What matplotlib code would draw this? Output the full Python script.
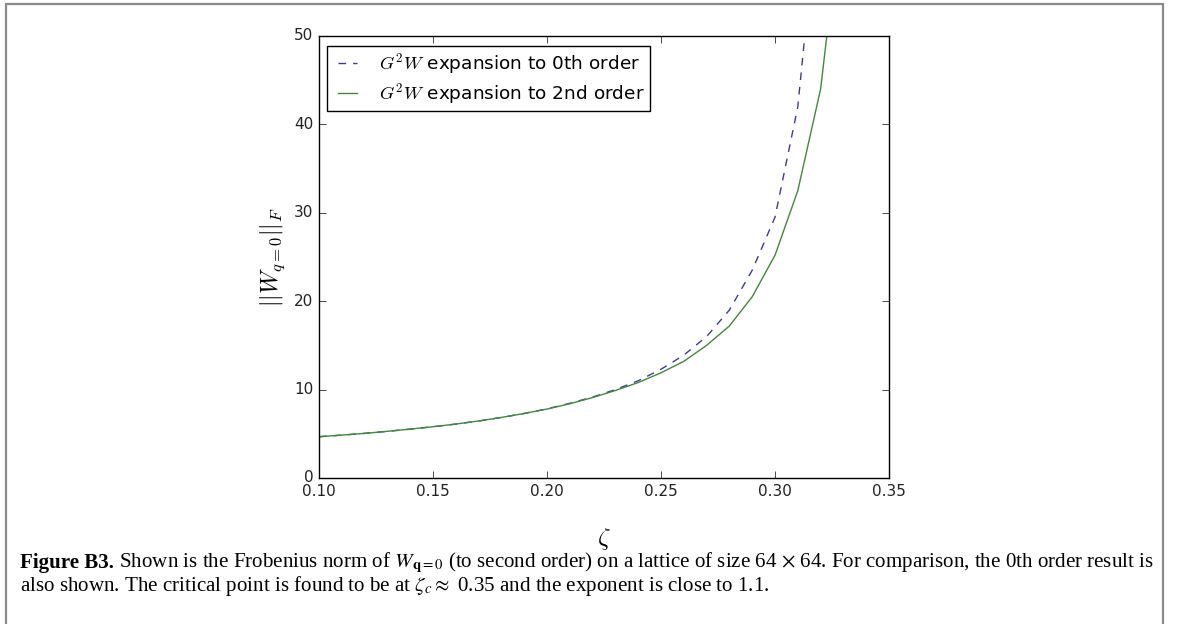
import matplotlib
matplotlib.use("Agg")
import matplotlib.pyplot as plt
from matplotlib.patches import Rectangle
import numpy as np

plt.style.use("classic")

# ---- data ----
zeta_0th = [0.10, 0.11, 0.12, 0.13, 0.14, 0.15, 0.16, 0.17, 0.18, 0.19, 0.20,
            0.21, 0.22, 0.23, 0.24, 0.25, 0.26, 0.27, 0.28, 0.29, 0.30, 0.31, 0.32]
norm_0th = [4.67, 4.85, 5.05, 5.28, 5.53, 5.80, 6.10, 6.45, 6.85, 7.30, 7.82,
            8.45, 9.15, 10.0, 11.0, 12.3, 13.9, 16.0, 19.0, 23.5, 29.5, 42.0, 68.0]
zeta_2nd = [0.10, 0.11, 0.12, 0.13, 0.14, 0.15, 0.16, 0.17, 0.18, 0.19, 0.20,
            0.21, 0.22, 0.23, 0.24, 0.25, 0.26, 0.27, 0.28, 0.29, 0.30, 0.31, 0.32, 0.33]
norm_2nd = [4.67, 4.85, 5.05, 5.28, 5.53, 5.80, 6.10, 6.45, 6.85, 7.30, 7.80,
            8.40, 9.10, 9.90, 10.8, 11.9, 13.2, 15.0, 17.2, 20.5, 25.2, 32.5, 44.0, 66.0]
label_0th = r"$G^2W$ expansion to 0th order"
label_2nd = r"$G^2W$ expansion to 2nd order"
xticks = [0.10, 0.15, 0.20, 0.25, 0.30, 0.35]
yticks = [0, 10, 20, 30, 40, 50]

W, H = 1179, 624
fig = plt.figure(figsize=(W / 100, H / 100), dpi=100, facecolor="white")
ax = fig.add_axes([319 / W, 1 - 478 / H, (889 - 319) / W, (478 - 36) / H])
ax.set_facecolor("white")

ax.plot(zeta_0th, norm_0th, linestyle=(0, (5.5, 5)), color="#3b3b99", lw=1.0, label=label_0th)
ax.plot(zeta_2nd, norm_2nd, linestyle="-", color="#3f8a36", lw=1.0, label=label_2nd)

ax.set_xlim(0.10, 0.35)
ax.set_ylim(0, 50)
ax.set_xticks(xticks)
ax.set_xticklabels([f"{v:.2f}" for v in xticks])
ax.set_yticks(yticks)
ax.set_yticklabels([str(v) for v in yticks])
ax.tick_params(labelsize=11, labelcolor="#222222", direction="in", length=5,
               top=True, right=True)

ax.set_ylabel(r"$||W_{q=0}||_F$", fontsize=17)
ax.yaxis.set_label_coords((287 - 319) / 570, 0.5)
ax.set_xlabel(r"$\zeta$", fontsize=18)
ax.xaxis.set_label_coords(0.5, -(526 - 478) / 442)

leg = ax.legend(loc="upper left", bbox_to_anchor=(0.014, 0.977), borderaxespad=0,
                fontsize=13.3, handlelength=1.6, handletextpad=0.9, labelspacing=0.25,
                borderpad=0.3, frameon=True, fancybox=False, numpoints=2)
leg.get_frame().set_edgecolor("black")
leg.get_frame().set_linewidth(1.0)

# ---- figure border ----
fig.patches.append(Rectangle((5.5 / W, -0.05), (1163 - 5.5) / W, 1 - 3.5 / H + 0.05,
                             transform=fig.transFigure, fill=False,
                             edgecolor="#8a8a8a", linewidth=1.6))

# ---- caption ----
cap_bold = "Figure B3."
cap_line1 = (r" Shown is the Frobenius norm of $W_{\mathbf{q}=0}$ (to second order) on a lattice "
             r"of size 64 $\times$ 64. For comparison, the 0th order result is")
cap_line2 = (r"also shown. The critical point is found to be at $\zeta_c\approx$ 0.35 "
             r"and the exponent is close to 1.1.")
serif = "Liberation Serif"
x0 = 20
target_w = 1155 - 20

fig.canvas.draw()
r = fig.canvas.get_renderer()
fs = 12.0
for _ in range(3):
    tb = fig.text(0, 0, cap_bold, family=serif, weight="bold", fontsize=fs, math_fontfamily="stix")
    tr = fig.text(0, 0, cap_line1, family=serif, fontsize=fs, math_fontfamily="stix")
    wtot = tb.get_window_extent(r).width + tr.get_window_extent(r).width
    tb.remove(); tr.remove()
    fs = fs * target_w / wtot

y1 = 1 - 563 / H
y2 = 1 - 586 / H
tb = fig.text(x0 / W, y1, cap_bold, family=serif, weight="bold", fontsize=fs,
              va="center", math_fontfamily="stix")
wb = tb.get_window_extent(r).width
fig.text((x0 + wb) / W, y1, cap_line1, family=serif, fontsize=fs, va="center",
         math_fontfamily="stix")
fig.text(x0 / W, y2, cap_line2, family=serif, fontsize=fs, va="center",
         math_fontfamily="stix")

fig.savefig("out.png", dpi=100, facecolor="white")
